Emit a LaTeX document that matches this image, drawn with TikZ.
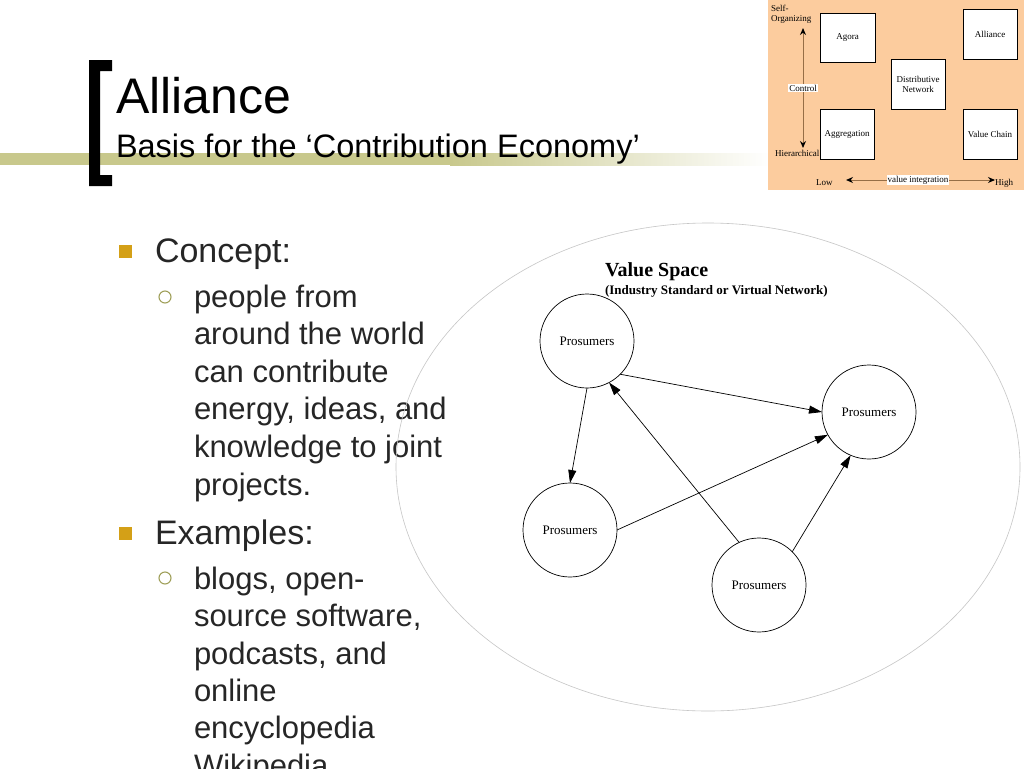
\documentclass[tikz,border=0pt]{standalone}
\usepackage{fontspec}
\setmainfont{Liberation Sans}
\newfontfamily\tms{Liberation Serif}
\usetikzlibrary{arrows.meta,shapes.geometric}
\definecolor{peach}{RGB}{252,204,158}
\definecolor{bandolive}{RGB}{200,200,140}
\definecolor{gold}{RGB}{212,160,23}
\definecolor{bulletolive}{RGB}{160,160,90}
\definecolor{brownline}{RGB}{150,110,70}
\begin{document}
\begin{tikzpicture}[x=1pt,y=-1pt,
  every node/.style={inner sep=0pt, outer sep=0pt},
  lvlone/.style={anchor=base west, font=\fontsize{34}{34}\selectfont, text=black!85},
  lvltwo/.style={anchor=base west, font=\fontsize{31}{31}\selectfont, text=black!85},
  sqbul/.style={fill=gold, minimum size=13pt},
  cbul/.style={circle, draw=bulletolive, line width=1.1pt, minimum size=12pt},
  prosumer/.style={circle, draw, line width=0.7pt, minimum size=94pt, font=\tms\fontsize{13}{13}\selectfont},
  flow/.style={line width=0.7pt, -{Triangle[length=13pt,width=8pt]}},
  smallbox/.style={draw, fill=white, line width=0.8pt, minimum width=54pt, minimum height=50pt, align=center, font=\tms\fontsize{9}{10}\selectfont},
  smalltxt/.style={font=\tms\fontsize{9}{10}\selectfont},
  axisline/.style={draw=brownline, line width=1pt, {Stealth[length=7pt,width=6pt,color=black]}-{Stealth[length=7pt,width=6pt,color=black]}},
]
\useasboundingbox (0,0) rectangle (1024,768);
\fill[white] (0,0) rectangle (1024,768);

% band and bracket
\fill[bandolive] (0,153) rectangle (450,165);
\shade[left color=bandolive, right color=white] (450,153) rectangle (770,165);
\fill[black] (89,60) -- (112,60) -- (112,71) -- (100,71) -- (100,175) -- (112,175) -- (112,186) -- (89,186) -- cycle;

% titles
\node[anchor=base west, font=\fontsize{50}{50}\selectfont] (t1) at (116,113) {Alliance};
\node[anchor=base west, font=\fontsize{32.5}{32.5}\selectfont] (t2) at (116,157) {Basis for the ‘Contribution Economy’};

% top-right panel
\fill[peach] (768,0) rectangle (1024,190);
\node[smalltxt, anchor=base west] (self) at (771,12) {Self-};
\node[smalltxt, anchor=base west] (org) at (771,22) {Organizing};
\node[smalltxt, anchor=base west] (hier) at (775,156) {Hierarchical};
\coordinate (vtop) at (803,28);
\coordinate (vbot) at (803,148);
\draw[axisline] (vbot) -- (vtop);
\node[smalltxt, fill=white, inner sep=1pt] (ctrl) at (803,88) {Control};
\node[smallbox, minimum width=55pt, minimum height=49pt] (agora) at (847.5,37.5) {Agora};
\node[smallbox] (alliance) at (990,34) {Alliance};
\node[smallbox] (dist) at (918,84) {Distributive\\Network};
\node[smallbox] (aggr) at (847,134) {Aggregation};
\node[smallbox] (vchain) at (990,134) {Value Chain};
\coordinate (hl) at (846,180);
\coordinate (hr) at (995,180);
\draw[axisline] (hl) -- (hr);
\node[smalltxt, fill=white, inner sep=1pt] (vi) at (918,180) {value integration};
\node[smalltxt, anchor=base west] (low) at (816,185) {Low};
\node[smalltxt, anchor=base west] (high) at (995,185) {High};

% bullets
\node[sqbul] (b1) at (125,251.5) {};
\node[lvlone] (c1) at (155,262) {Concept:};
\node[cbul] (b2) at (165,297) {};
\node[lvltwo] (l1) at (194,307) {people from};
\node[lvltwo] (l2) at (194,344.6) {around the world};
\node[lvltwo] (l3) at (194,382.2) {can contribute};
\node[lvltwo] (l4) at (194,419.8) {energy, ideas, and};
\node[lvltwo] (l5) at (194,457.4) {knowledge to joint};
\node[lvltwo] (l6) at (194,495) {projects.};
\node[sqbul] (b3) at (125,533) {};
\node[lvlone] (c2) at (155,544) {Examples:};
\node[cbul] (b4) at (165,578) {};
\node[lvltwo] (m1) at (194,589.5) {blogs, open-};
\node[lvltwo] (m2) at (194,626.8) {source software,};
\node[lvltwo] (m3) at (194,664.1) {podcasts, and};
\node[lvltwo] (m4) at (194,701.4) {online};
\node[lvltwo] (m5) at (194,738.7) {encyclopedia};
\node[lvltwo] (m6) at (194,776) {Wikipedia.};

% value space
\draw[gray!45, line width=0.6pt] (708,467) ellipse [x radius=312, y radius=244];
\node[anchor=base west, font=\tms\bfseries\fontsize{20}{20}\selectfont] (vs) at (605,276) {Value Space};
\node[anchor=base west, font=\tms\bfseries\fontsize{13}{13}\selectfont] (vs2) at (605,294) {(Industry Standard or Virtual Network)};
\node[prosumer] (TL) at (587,341) {Prosumers};
\node[prosumer] (R) at (869,412) {Prosumers};
\node[prosumer] (BL) at (570,530) {Prosumers};
\node[prosumer] (B) at (759,585) {Prosumers};
\draw[flow] (TL.-45) -- (R.west);
\draw[flow] (TL.south) -- (BL.north);
\draw[flow] (B.115) -- (TL.-62);
\draw[flow] (BL.east) -- (R.209);
\draw[flow] (B.45) -- (R.-113);
\end{tikzpicture}
\end{document}
